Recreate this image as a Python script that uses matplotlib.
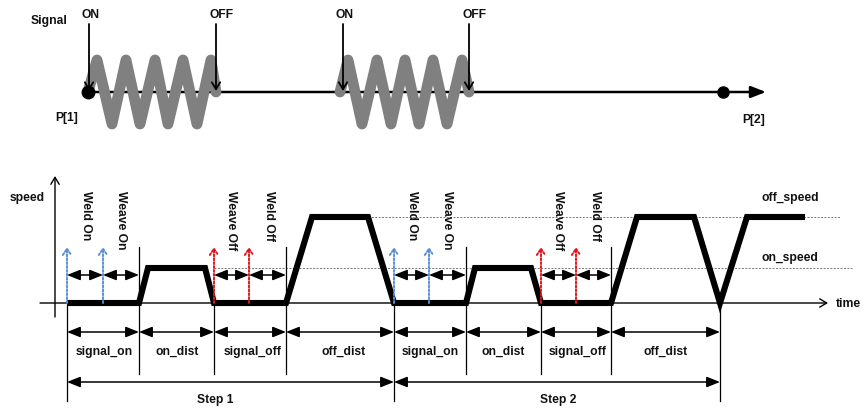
import matplotlib
matplotlib.use("Agg")
import matplotlib.pyplot as plt

plt.rcParams['font.family'] = ['Liberation Sans', 'DejaVu Sans']

# ---------------- data (diagram coordinates, pixel-like units) ----------------
# top: path P[1] -> P[2] with two weaving sections
path_y = 93
p1_x, p2_x, path_end_x = 88, 723, 766
weave1_x = [88, 97, 112, 126, 140, 155, 168, 183, 197, 211, 216]
weave2_x = [340, 348, 362, 377, 391, 405, 419, 433, 447, 462, 469]
weave_y = [93, 61, 125, 61, 125, 61, 125, 61, 125, 61, 93]
signal_x = [89, 216, 343, 469]
signal_labels = ["ON", "OFF", "ON", "OFF"]
signal_label_x = [91, 222, 345, 475]

# bottom: speed profile
zero_y, on_speed_y, off_speed_y = 304, 269, 218
profile_t = [67, 139, 148, 205, 214, 286, 312, 368, 394, 466, 475, 531, 541,
             611, 637, 694, 720, 747, 805]
profile_v = [zero_y, zero_y, on_speed_y, on_speed_y, zero_y, zero_y, off_speed_y,
             off_speed_y, zero_y, zero_y, on_speed_y, on_speed_y, zero_y, zero_y,
             off_speed_y, off_speed_y, zero_y, off_speed_y, off_speed_y]

boundaries = [67, 139, 214, 286, 394, 466, 541, 611, 720]
segment_labels = ["signal_on", "on_dist", "signal_off", "off_dist",
                  "signal_on", "on_dist", "signal_off", "off_dist"]
segment_label_x = [104, 177, 253, 344, 430, 503, 578, 666]
step_bounds = [67, 394, 720]
step_labels = ["Step 1", "Step 2"]
step_label_x = [215, 558]

weld_on_x = [67, 394]
weave_on_x = [103, 429]
weave_off_x = [214, 541]
weld_off_x = [249, 576]
event_labels = ["Weld On", "Weave On", "Weave Off", "Weld Off"]

BLUE = "#5b8fd4"
RED = "#e3141b"
GRAY = "#808080"

# ---------------- figure ----------------
fig = plt.figure(figsize=(8.62, 4.10), dpi=100)
ax = fig.add_axes([0, 0, 1, 1])
ax.set_xlim(0, 862)
ax.set_ylim(410, 0)
ax.axis("off")

FS = 8.7
tkw = dict(fontsize=FS, fontweight="bold", color="#111111")


def arrow(x0, y0, x1, y1, style="-|>", lw=1.0, color="k", ls="-", hl=0.6, hw=0.25, z=3):
    ax.annotate("", xy=(x1, y1), xytext=(x0, y0),
                arrowprops=dict(arrowstyle=f"{style},head_length={hl},head_width={hw}",
                                lw=lw, color=color, ls=ls, shrinkA=0, shrinkB=0,
                                mutation_scale=10),
                zorder=z)


# ---- top diagram ----
arrow(p1_x, path_y, path_end_x, path_y, style="-|>", lw=1.8, hl=0.9, hw=0.35, z=2)
ax.plot(weave1_x, weave_y, color=GRAY, lw=7.8, solid_capstyle="round",
        solid_joinstyle="round", zorder=3)
ax.plot(weave2_x, weave_y, color=GRAY, lw=7.8, solid_capstyle="round",
        solid_joinstyle="round", zorder=3)
ax.plot([p1_x], [path_y], "o", color="k", ms=9, zorder=5)
ax.plot([p2_x], [path_y], "o", color="k", ms=8, zorder=5)
for sx, lab, lx in zip(signal_x, signal_labels, signal_label_x):
    arrow(sx, 25, sx, path_y - 1, style="->", lw=1.3, hl=0.5, hw=0.3, z=6)
    ax.text(lx, 15, lab, ha="center", va="center", **tkw)
ax.text(49, 21, "Signal", ha="center", va="center", **tkw)
ax.text(67, 118, "P[1]", ha="center", va="center", **tkw)
ax.text(754, 120, "P[2]", ha="center", va="center", **tkw)

# ---- bottom diagram ----
# axes
arrow(55, 318, 55, 177, style="->", lw=1.0, hl=0.5, hw=0.3, z=2)
arrow(40, zero_y, 828, zero_y, style="->", lw=1.0, hl=0.5, hw=0.3, z=2)
ax.text(27, 198, "speed", ha="center", va="center", **tkw)
ax.text(836, zero_y, "time", ha="left", va="center", **tkw)

# reference levels
ax.plot([214, 852], [on_speed_y, on_speed_y], color="#777777", lw=0.7,
        ls=(0, (2, 1.5)), zorder=1)
ax.plot([368, 840], [off_speed_y, off_speed_y], color="#777777", lw=0.7,
        ls=(0, (2, 1.5)), zorder=1)
ax.text(762, 198, "off_speed", ha="left", va="center", **tkw)
ax.text(762, 258, "on_speed", ha="left", va="center", **tkw)

# speed profile
ax.plot(profile_t, profile_v, color="k", lw=4.4, solid_joinstyle="miter",
        solid_capstyle="butt", zorder=4)

# boundary lines
for b in boundaries:
    if b in step_bounds:
        top, bot = zero_y, 402
    elif b in weave_off_x:
        top, bot = zero_y, 375
    else:
        top, bot = 248, 375
    ax.plot([b, b], [top, bot], color="k", lw=0.9, zorder=2)

# event arrows (dotted)
for xs, col in ((weld_on_x, BLUE), (weave_on_x, BLUE), (weave_off_x, RED), (weld_off_x, RED)):
    for x in xs:
        arrow(x, zero_y, x, 248, style="->", lw=1.4, color=col, ls=(0, (1, 1)),
              hl=0.45, hw=0.3, z=5)

DA = dict(style="<|-|>", lw=1.1, hl=0.8, hw=0.32)
# double arrows between events
for a, b in zip(weld_on_x, weave_on_x):
    arrow(a, 276, b, 276, **DA)
for a, b in zip(weave_on_x, [139, 466]):
    arrow(a, 276, b, 276, **DA)
for a, b in zip(weave_off_x, weld_off_x):
    arrow(a, 276, b, 276, **DA)
for a, b in zip(weld_off_x, [286, 611]):
    arrow(a, 276, b, 276, **DA)

# rotated event labels
for i in range(2):
    xs = [(weld_on_x[i] + weave_on_x[i]) / 2 + 1,
          (weave_on_x[i] + boundaries[4 * i + 1]) / 2,
          (weave_off_x[i] + weld_off_x[i]) / 2,
          (weld_off_x[i] + boundaries[4 * i + 3]) / 2 + 2]
    for x, lab in zip(xs, event_labels):
        ax.text(x, 191, lab, rotation=-90, ha="center", va="top", **tkw)

# segment arrows & labels
for a, b in zip(boundaries[:-1], boundaries[1:]):
    arrow(a, 333, b, 333, **DA)
for x, lab in zip(segment_label_x, segment_labels):
    ax.text(x, 352, lab, ha="center", va="center", **tkw)

# step arrows & labels
for a, b in zip(step_bounds[:-1], step_bounds[1:]):
    arrow(a, 383, b, 383, **DA)
for x, lab in zip(step_label_x, step_labels):
    ax.text(x, 400, lab, ha="center", va="center", **tkw)

fig.savefig("out.png", dpi=100)
